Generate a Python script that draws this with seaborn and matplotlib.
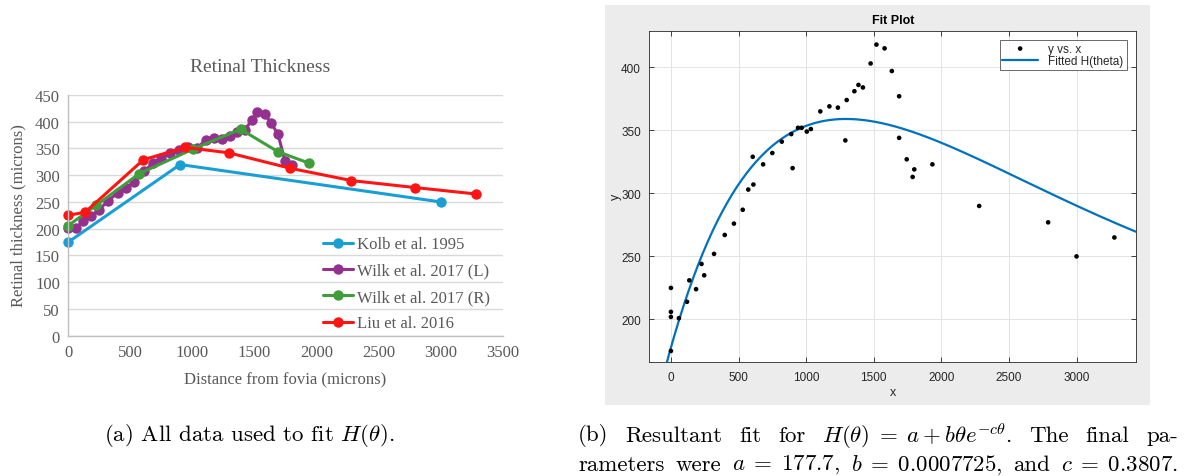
import numpy as np
import matplotlib
matplotlib.use("Agg")
import matplotlib.pyplot as plt
from matplotlib.patches import Rectangle
import seaborn as sns

# values (microns)
kolb_x = [0, 900, 3000]
kolb_y = [175, 320, 250]
wilk_l_x = [0, 59, 119, 186, 246, 319, 398, 466, 531, 610, 682, 750, 820, 890, 967,
            1035, 1105, 1172, 1235, 1300, 1357, 1420, 1477, 1520, 1580, 1634, 1688, 1744, 1800]
wilk_l_y = [202, 201, 214, 224, 235, 252, 267, 276, 287, 307, 323, 332, 341, 347, 352,
            351, 365, 369, 368, 374, 381, 384, 403, 418, 415, 397, 377, 327, 319]
wilk_r_x = [0, 226, 572, 1005, 1387, 1688, 1934]
wilk_r_y = [206, 244, 303, 349, 386, 344, 323]
liu_x = [0, 136, 605, 940, 1290, 1788, 2280, 2790, 3280]
liu_y = [225, 231, 329, 352, 342, 313, 290, 277, 265]

series_names = ["Kolb et al. 1995", "Wilk et al. 2017 (L)", "Wilk et al. 2017 (R)", "Liu et al. 2016"]
series_colors = ["#1a9fd4", "#94318f", "#3f9e3a", "#ff1414"]

# fitted parameters from the caption: a + c*x*exp(-b*x)
fit_a = 177.7
fit_b = 0.0007725
fit_c = 0.3807

W, H = 1189, 477
sns.set_style("white")
plt.rcParams["mathtext.fontset"] = "cm"

fig = plt.figure(figsize=(W / 100, H / 100), dpi=100)


def fx(px):
    return px / W


def fy(py):
    return 1 - py / H


# ---- left panel (Excel style) ----
serif = "Liberation Serif"
grey = "#595959"
ax1 = fig.add_axes([fx(68.3), fy(336.7), fx(503 - 68.3), (336.7 - 96) / H])
xs = [kolb_x, wilk_l_x, wilk_r_x, liu_x]
ys = [kolb_y, wilk_l_y, wilk_r_y, liu_y]
for x, y, name, col in zip(xs, ys, series_names, series_colors):
    sns.lineplot(x=x, y=y, ax=ax1, color=col, marker="o", markersize=7.5,
                 markeredgewidth=0, linewidth=2.2, label=name, estimator=None,
                 sort=False, clip_on=False)
ax1.set_xlim(0, 3500)
ax1.set_ylim(0, 450)
ax1.set_xticks(np.arange(0, 3501, 500))
ax1.set_yticks(np.arange(0, 451, 50))
ax1.yaxis.grid(True, color="#d9d9d9", linewidth=1)
ax1.xaxis.grid(False)
ax1.set_axisbelow(True)
for s in ["top", "right"]:
    ax1.spines[s].set_visible(False)
for s in ["left", "bottom"]:
    ax1.spines[s].set_color("#bfbfbf")
    ax1.spines[s].set_linewidth(1)
ax1.tick_params(length=0, labelsize=12, labelcolor=grey, pad=6)
for lab in ax1.get_xticklabels() + ax1.get_yticklabels():
    lab.set_fontfamily(serif)
ax1.set_xlabel("")
ax1.set_ylabel("")
fig.text(fx(260), fy(67), "Retinal Thickness", ha="center", va="center",
         fontsize=14, color=grey, family=serif)
fig.text(fx(285), fy(380), "Distance from fovia (microns)", ha="center", va="center",
         fontsize=12, color=grey, family=serif)
fig.text(fx(18), fy(216), "Retinal thickness (microns)", ha="center", va="center",
         rotation=90, fontsize=12, color=grey, family=serif)
leg1 = ax1.legend(loc="upper left", bbox_to_anchor=(fx(315), fy(229)),
                  bbox_transform=fig.transFigure, frameon=False, borderpad=0,
                  handlelength=1.8, handletextpad=0.2, labelspacing=0.62,
                  prop={"family": serif, "size": 12})
for t in leg1.get_texts():
    t.set_color(grey)

# ---- right panel (MATLAB style) ----
fig.patches.append(Rectangle((fx(605), fy(406)), fx(1150 - 605), (406 - 6) / H,
                             transform=fig.transFigure, facecolor="#ececec",
                             edgecolor="none", zorder=-5))
sans = "Liberation Sans"
ax2 = fig.add_axes([fx(649.3), fy(363.3), fx(1136 - 649.3), (363.3 - 31.7) / H])
ax2.set_facecolor("white")
ax2.set_zorder(2)
all_x = kolb_x + wilk_l_x + wilk_r_x + liu_x
all_y = kolb_y + wilk_l_y + wilk_r_y + liu_y
fit_x = np.linspace(-160, 3440, 400)
fit_y = fit_a + fit_c * fit_x * np.exp(-fit_b * fit_x)
sns.scatterplot(x=all_x, y=all_y, ax=ax2, color="black", s=11, edgecolor="none",
                label="y vs. x", zorder=3)
sns.lineplot(x=fit_x, y=fit_y, ax=ax2, color="#0072bd", linewidth=1.6,
             label="Fitted H(theta)", zorder=2)
ax2.set_xlim(-160, 3440)
ax2.set_ylim(166, 429)
ax2.set_xticks(np.arange(0, 3001, 500))
ax2.set_yticks(np.arange(200, 401, 50))
ax2.grid(True, color="#e3e3e3", linewidth=0.7)
ax2.set_axisbelow(True)
for s in ax2.spines.values():
    s.set_visible(True)
    s.set_color("#262626")
    s.set_linewidth(0.6)
ax2.tick_params(direction="in", length=3.5, width=0.6, top=True, right=True,
                bottom=True, left=True, labelsize=8.5, labelcolor="#262626",
                color="#262626", pad=6)
for lab in ax2.get_xticklabels() + ax2.get_yticklabels():
    lab.set_fontfamily(sans)
ax2.set_xlabel("")
ax2.set_ylabel("")
fig.text(fx(893), fy(393), "x", ha="center", va="center", fontsize=9,
         color="#262626", family=sans, zorder=3)
fig.text(fx(616), fy(197), "y", ha="center", va="center", fontsize=9,
         rotation=90, color="#262626", family=sans, zorder=3)
fig.text(fx(893), fy(21), "Fit Plot", ha="center", va="center", fontsize=9,
         fontweight="bold", color="black", family=sans, zorder=3)
leg2 = ax2.legend(loc="upper right", bbox_to_anchor=(fx(1126.7), fy(40.7)),
                  bbox_transform=fig.transFigure, fancybox=False, borderpad=0.25,
                  handlelength=3.0, handletextpad=0.9, labelspacing=0.05,
                  borderaxespad=0, prop={"family": sans, "size": 8.5})
leg2.get_frame().set_edgecolor("#262626")
leg2.get_frame().set_linewidth(0.6)

# ---- captions (LaTeX look, justified caption b) ----
cap = dict(fontsize=16.5, family="cmr10", color="black", va="center")
fig.text(fx(104), fy(436), r"(a) All data used to fit $H(\theta)$.", ha="left", **cap)

renderer = fig.canvas.get_renderer()


def justified(words, x0, x1, ypx):
    items = [fig.text(0, fy(ypx), w, ha="left", **cap) for w in words]
    widths = [t.get_window_extent(renderer).width for t in items]
    gap = (x1 - x0 - sum(widths)) / (len(items) - 1)
    pos = x0
    for t, w in zip(items, widths):
        t.set_x(fx(pos))
        pos += w + gap


justified(["(b)", "Resultant", "fit", "for",
           r"$H(\theta)\;=\;a+b\theta e^{-c\theta}$.", "The", "final", "pa-"],
          578, 1178, 436)
justified(["rameters", "were", r"$a\;=\;177.7$,", r"$b\;=\;0.0007725$,", "and",
           r"$c\;=\;0.3807$."], 578, 1178, 465)

fig.savefig("out.png", dpi=100)
